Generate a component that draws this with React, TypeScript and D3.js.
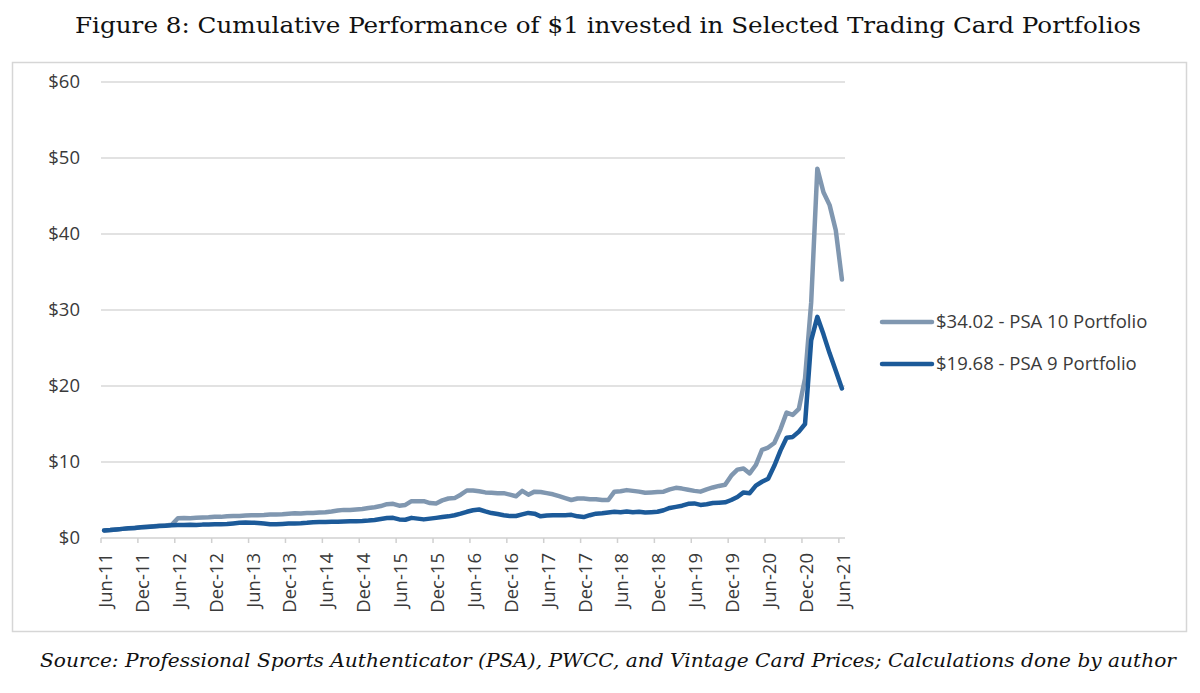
import React from "react";
import * as d3 from "d3";

const TITLE = "Figure 8: Cumulative Performance of $1 invested in Selected Trading Card Portfolios";
const SOURCE = "Source: Professional Sports Authenticator (PSA), PWCC, and Vintage Card Prices; Calculations done by author";

// Monthly observations, Jun-2011 .. Jun-2021 (121 months)
const START = new Date(2011, 5, 1);
const MONTHS = d3.timeMonth.range(START, new Date(2021, 6, 1));

const psa10: number[] = [
  1.00, 1.05, 1.12, 1.20, 1.28, 1.33, 1.40, 1.48, 1.55, 1.60, 1.66, 1.75,
  2.60, 2.62, 2.60, 2.65, 2.70, 2.72, 2.80, 2.78, 2.85, 2.90, 2.88, 2.95,
  3.00, 2.98, 3.02, 3.08, 3.10, 3.12, 3.18, 3.25, 3.22, 3.28, 3.30, 3.35,
  3.40, 3.50, 3.62, 3.70, 3.68, 3.75, 3.82, 3.95, 4.05, 4.20, 4.45, 4.50,
  4.25, 4.35, 4.85, 4.82, 4.85, 4.60, 4.55, 4.95, 5.20, 5.25, 5.70, 6.25,
  6.25, 6.15, 6.00, 5.95, 5.90, 5.90, 5.70, 5.50, 6.20, 5.70, 6.10, 6.05,
  5.90, 5.75, 5.50, 5.25, 5.00, 5.20, 5.20, 5.10, 5.10, 5.00, 5.00, 6.10,
  6.15, 6.30, 6.20, 6.10, 5.95, 6.00, 6.05, 6.10, 6.40, 6.60, 6.50, 6.35,
  6.20, 6.10, 6.40, 6.65, 6.85, 7.00, 8.20, 9.00, 9.15, 8.50, 9.60, 11.60,
  11.90, 12.50, 14.30, 16.50, 16.20, 17.00, 21.00, 31.00, 48.60, 45.50, 43.80, 40.50,
  34.02,
];

const psa9: number[] = [
  1.00, 1.05, 1.12, 1.20, 1.27, 1.33, 1.40, 1.46, 1.52, 1.57, 1.62, 1.68,
  1.72, 1.70, 1.75, 1.72, 1.76, 1.78, 1.80, 1.82, 1.85, 1.92, 2.00, 2.05,
  2.02, 1.98, 1.90, 1.82, 1.80, 1.85, 1.90, 1.92, 1.95, 2.00, 2.08, 2.10,
  2.12, 2.15, 2.15, 2.18, 2.20, 2.22, 2.25, 2.30, 2.38, 2.50, 2.62, 2.65,
  2.45, 2.40, 2.65, 2.55, 2.45, 2.55, 2.65, 2.75, 2.85, 3.00, 3.20, 3.45,
  3.65, 3.75, 3.50, 3.28, 3.15, 3.00, 2.88, 2.90, 3.10, 3.30, 3.20, 2.85,
  2.95, 3.00, 2.98, 3.00, 3.05, 2.85, 2.75, 3.00, 3.20, 3.25, 3.35, 3.45,
  3.40, 3.50, 3.40, 3.45, 3.35, 3.40, 3.45, 3.65, 3.95, 4.10, 4.25, 4.50,
  4.55, 4.35, 4.45, 4.60, 4.65, 4.70, 5.00, 5.40, 6.00, 5.90, 6.90, 7.40,
  7.80, 9.50, 11.50, 13.20, 13.30, 14.00, 15.00, 26.00, 29.10, 26.80, 24.30, 22.00,
  19.68,
];

const xTickLabels = [
  "Jun-11", "Dec-11", "Jun-12", "Dec-12", "Jun-13", "Dec-13", "Jun-14",
  "Dec-14", "Jun-15", "Dec-15", "Jun-16", "Dec-16", "Jun-17", "Dec-17",
  "Jun-18", "Dec-18", "Jun-19", "Dec-19", "Jun-20", "Dec-20", "Jun-21",
];
const yTicks = [0, 10, 20, 30, 40, 50, 60];

const series = [
  { name: "$34.02 - PSA 10 Portfolio", values: psa10, color: "#8097B0" },
  { name: "$19.68 - PSA 9 Portfolio", values: psa9, color: "#1C5A99" },
];

const W = 1200;
const H = 693;
const TEXT = "#3a3a3a";
const AXIS_FONT = "'Open Sans', 'Noto Sans', sans-serif";
const SERIF = "'DejaVu Serif Condensed', 'DejaVu Serif', serif";

export default function App() {
  const x = d3
    .scaleBand<number>()
    .domain(d3.range(MONTHS.length))
    .range([101, 845])
    .paddingInner(0)
    .paddingOuter(0);
  const bw = x.bandwidth();
  const y = d3.scaleLinear().domain([0, 60]).range([538, 82]);

  const line = d3
    .line<number>()
    .x((_, i) => (x(i) as number) + bw / 2)
    .y((d) => y(d));

  return (
    <div style={{ position: "absolute", left: 0, top: 0, background: "#fff" }}>
      <svg width={W} height={H} style={{ display: "block", background: "#fff" }}>
        <text
          x={608}
          y={33}
          textAnchor="middle"
          fontFamily={SERIF}
          fontStretch="condensed"
          fontSize={23}
          fill="#111"
          textLength={1066}
          lengthAdjust="spacingAndGlyphs"
        >
          {TITLE}
        </text>

        <rect x={12.5} y={62.5} width={1174} height={569} fill="#fff" stroke="#d6d6d6" strokeWidth={1.5} />

        {yTicks.map((t) => (
          <g key={t}>
            {t > 0 && (
              <line x1={101} x2={845} y1={y(t)} y2={y(t)} stroke="#d9d9d9" strokeWidth={1.5} />
            )}
            <text
              x={80}
              y={y(t)}
              dy="0.35em"
              textAnchor="end"
              fontFamily={AXIS_FONT}
              fontSize={18.5}
              fill={TEXT}
            >
              {"$" + t}
            </text>
          </g>
        ))}

        <line x1={101} x2={845} y1={y(0)} y2={y(0)} stroke="#d0d0d0" strokeWidth={1.5} />
        {xTickLabels.map((lab, k) => {
          const tx = x(k * 6) as number;
          return (
            <g key={lab}>
              <line x1={tx} x2={tx} y1={y(0)} y2={y(0) + 5} stroke="#d0d0d0" strokeWidth={1.5} />
              <text
                transform={`translate(${tx + 11},${y(0) + 15}) rotate(-90)`}
                textAnchor="end"
                fontFamily={AXIS_FONT}
                fontSize={18.5}
                fill={TEXT}
              >
                {lab}
              </text>
            </g>
          );
        })}

        {series.map((s) => (
          <path
            key={s.name}
            d={line(s.values) || ""}
            fill="none"
            stroke={s.color}
            strokeWidth={4.5}
            strokeLinejoin="round"
            strokeLinecap="round"
          />
        ))}

        {series.map((s, k) => {
          const ly = 322 + k * 42;
          return (
            <g key={"leg" + s.name}>
              <line x1={882} x2={932} y1={ly} y2={ly} stroke={s.color} strokeWidth={4.5} strokeLinecap="round" />
              <text x={936} y={ly} dy="0.35em" fontFamily={AXIS_FONT} fontSize={18.5} fill={TEXT}>
                {s.name}
              </text>
            </g>
          );
        })}

        <text
          x={40}
          y={667}
          fontFamily={SERIF}
          fontStretch="condensed"
          fontStyle="italic"
          fontSize={19}
          fill="#111"
          textLength={1136}
          lengthAdjust="spacingAndGlyphs"
        >
          {SOURCE}
        </text>
      </svg>
    </div>
  );
}
